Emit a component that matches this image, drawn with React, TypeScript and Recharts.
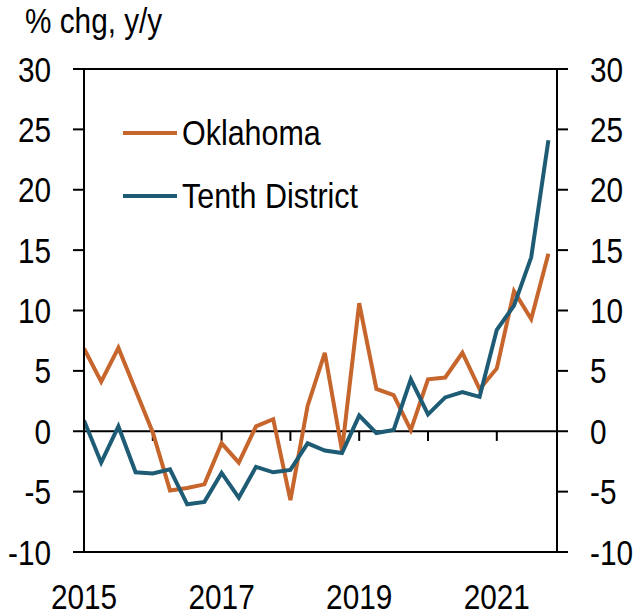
import { Line, LineChart, ReferenceLine, XAxis, YAxis } from "recharts";

// quarterly, 2015Q1 .. 2021Q4
const QUARTERS = [
  "2015Q1", "2015Q2", "2015Q3", "2015Q4",
  "2016Q1", "2016Q2", "2016Q3", "2016Q4",
  "2017Q1", "2017Q2", "2017Q3", "2017Q4",
  "2018Q1", "2018Q2", "2018Q3", "2018Q4",
  "2019Q1", "2019Q2", "2019Q3", "2019Q4",
  "2020Q1", "2020Q2", "2020Q3", "2020Q4",
  "2021Q1", "2021Q2", "2021Q3", "2021Q4",
];

const OKLAHOMA = [
  6.85, 4.1, 6.9, 3.4, -0.1, -4.9, -4.7, -4.4, -1.0, -2.6, 0.4, 1.0, -5.7, 2.1,
  6.5, -1.6, 10.6, 3.5, 3.0, 0.1, 4.3, 4.45, 6.5, 3.5, 5.2, 11.6, 9.3, 14.7,
];

const TENTH_DISTRICT = [
  0.9, -2.6, 0.4, -3.4, -3.5, -3.15, -6.05, -5.85, -3.45, -5.5, -2.95, -3.4, -3.2, -1.0,
  -1.6, -1.8, 1.3, -0.15, 0.1, 4.3, 1.4, 2.8, 3.25, 2.85, 8.4, 10.4, 14.4, 24.1,
];

const Y_TICKS = [-10, -5, 0, 5, 10, 15, 20, 25, 30];
const YEAR_TICKS = [0, 8, 16, 24];
const YEAR_LABELS = ["2015", "2017", "2019", "2021"];
const MINOR_TICKS = [4, 8, 12, 16, 20, 24];

const ORANGE = "#C6652C";
const TEAL = "#1E5C75";
const FONT = "'Liberation Sans', Arial, sans-serif";
const NARROW = 0.85; // fake Arial Narrow

const data = QUARTERS.map((q, i) => ({
  q,
  i,
  ok: OKLAHOMA[i],
  tenth: TENTH_DISTRICT[i],
}));

const NarrowTick = (props: any) => {
  const { x, y, payload, anchor, dy, fmt } = props;
  return (
    <text
      x={x}
      y={y}
      dy={dy}
      textAnchor={anchor}
      fill="#000"
      fontSize={35}
      fontFamily={FONT}
      transform={`translate(${x},0) scale(${NARROW},1) translate(${-x},0)`}
    >
      {fmt ? fmt(payload.value) : payload.value}
    </text>
  );
};

const yearOf = (v: number) => YEAR_LABELS[YEAR_TICKS.indexOf(v)] ?? "";

const narrowText = {
  fontFamily: FONT,
  fontSize: 35,
  color: "#000",
  whiteSpace: "nowrap" as const,
  transform: `scaleX(${NARROW})`,
  transformOrigin: "left center",
};

export default function App() {
  return (
    <div style={{ position: "absolute", left: 0, top: 0, width: 634, height: 615, background: "#fff", overflow: "hidden" }}>
      <div style={{ position: "absolute", left: 25, top: 1, lineHeight: "40px", ...narrowText }}>% chg, y/y</div>
      <LineChart width={634} height={615} data={data} margin={{ top: 69, right: 0, bottom: 0, left: 0 }}>
        <XAxis
          dataKey="i"
          type="number"
          domain={[0, 27.5]}
          ticks={YEAR_TICKS}
          tick={<NarrowTick anchor="middle" dy="0.71em" fmt={yearOf} />}
          tickLine={false}
          tickSize={0}
          tickMargin={32}
          height={63}
          axisLine={{ stroke: "#000", strokeWidth: 2 }}
          allowDataOverflow
        />
        <YAxis
          yAxisId="left"
          orientation="left"
          domain={[-10, 30]}
          ticks={Y_TICKS}
          interval={0}
          width={84}
          tick={<NarrowTick anchor="end" dy="0.36em" />}
          tickSize={11}
          tickMargin={22}
          tickLine={{ stroke: "#000", strokeWidth: 2 }}
          axisLine={{ stroke: "#000", strokeWidth: 2 }}
        />
        <YAxis
          yAxisId="right"
          orientation="right"
          domain={[-10, 30]}
          ticks={Y_TICKS}
          interval={0}
          width={77}
          tick={<NarrowTick anchor="start" dy="0.36em" />}
          tickSize={11}
          tickMargin={22}
          tickLine={{ stroke: "#000", strokeWidth: 2 }}
          axisLine={{ stroke: "#000", strokeWidth: 2 }}
        />
        <ReferenceLine yAxisId="left" y={30} stroke="#000" strokeWidth={2} />
        <ReferenceLine yAxisId="left" y={0} stroke="#000" strokeWidth={2} />
        {MINOR_TICKS.map((t) => (
          <ReferenceLine
            key={t}
            yAxisId="left"
            segment={[
              { x: t, y: 0 },
              { x: t, y: -0.8 },
            ]}
            stroke="#000"
            strokeWidth={2}
          />
        ))}
        <Line
          yAxisId="left"
          type="linear"
          dataKey="ok"
          name="Oklahoma"
          stroke={ORANGE}
          strokeWidth={4}
          dot={false}
          isAnimationActive={false}
        />
        {/* same scale as the left axis; keeps the right axis populated */}
        <Line
          yAxisId="right"
          type="linear"
          dataKey="tenth"
          name="Tenth District"
          stroke={TEAL}
          strokeWidth={4}
          dot={false}
          isAnimationActive={false}
        />
      </LineChart>
      <div style={{ position: "absolute", left: 123, top: 101 }}>
        {[
          { name: "Oklahoma", color: ORANGE },
          { name: "Tenth District", color: TEAL },
        ].map((s) => (
          <div key={s.name} style={{ display: "flex", alignItems: "center", height: 63 }}>
            <div style={{ width: 54, height: 4, background: s.color, marginRight: 5, flex: "none" }} />
            <span style={{ ...narrowText, display: "inline-block", lineHeight: "40px", transform: "scaleX(0.87)" }}>
              {s.name}
            </span>
          </div>
        ))}
      </div>
    </div>
  );
}
